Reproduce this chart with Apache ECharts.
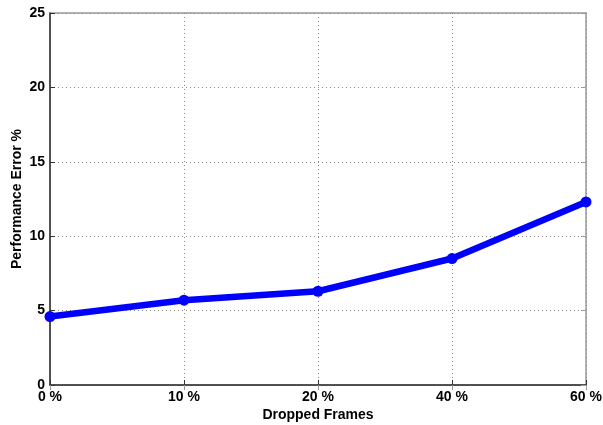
<!DOCTYPE html>
<html>
<head>
<meta charset="utf-8">
<script src="https://cdn.jsdelivr.net/npm/echarts@6/dist/echarts.min.js"></script>
<style>
  html, body { margin: 0; padding: 0; background: #fff; }
  #chart { width: 603px; height: 425px; }
</style>
</head>
<body>
<div id="chart"></div>
<script>
// dropped frame levels and measured error
const categories = ['0 %', '10 %', '20 %', '40 %', '60 %']
const errorValues = [4.6, 5.7, 6.3, 8.5, 12.3]
const yTicks = [0, 5, 10, 15, 20, 25]

const font = 'Liberation Sans, Arial, sans-serif'
const gridLine = { show: true, lineStyle: { color: '#888', type: [1, 3], width: 1 } }

let echart = echarts.init(document.getElementById('chart'))
echart.setOption({
  animation: false,
  grid: {
    left: 50, right: 17, top: 13, bottom: 40,
    outerBoundsMode: 'none',
    show: true, borderColor: '#999', borderWidth: 1.5, backgroundColor: '#fff'
  },
  xAxis: [
    {
      type: 'category',
      data: categories,
      boundaryGap: false,
      name: 'Dropped Frames',
      nameLocation: 'middle',
      nameGap: 23,
      nameMoveOverlap: false,
      nameTextStyle: { fontFamily: font, fontWeight: 'bold', fontSize: 14, color: '#000' },
      axisLine: { lineStyle: { color: '#333', width: 1.5 } },
      axisTick: { inside: true, length: 5, lineStyle: { color: '#333' } },
      axisLabel: { fontFamily: font, fontWeight: 'bold', fontSize: 14, color: '#000', margin: 5,
        showMinLabel: true, showMaxLabel: true, interval: 0 },
      splitLine: gridLine
    },
    {
      type: 'category',
      data: categories,
      boundaryGap: false,
      position: 'top',
      axisLine: { show: false },
      axisTick: { inside: true, length: 5, lineStyle: { color: '#999' } },
      axisLabel: { show: false },
      splitLine: { show: false }
    }
  ],
  yAxis: [
    {
      type: 'value',
      min: yTicks[0],
      max: yTicks[yTicks.length - 1],
      interval: 5,
      name: 'Performance Error %',
      nameLocation: 'middle',
      nameGap: 26,
      nameMoveOverlap: false,
      nameTextStyle: { fontFamily: font, fontWeight: 'bold', fontSize: 14, color: '#000' },
      axisLine: { show: true, lineStyle: { color: '#333', width: 1.5 } },
      axisTick: { show: true, inside: true, length: 5, lineStyle: { color: '#333' } },
      axisLabel: { fontFamily: font, fontWeight: 'bold', fontSize: 14, color: '#000', margin: 5 },
      splitLine: gridLine
    },
    {
      type: 'value',
      min: yTicks[0],
      max: yTicks[yTicks.length - 1],
      interval: 5,
      position: 'right',
      axisLine: { show: false },
      axisTick: { show: true, inside: true, length: 5, lineStyle: { color: '#999' } },
      axisLabel: { show: false },
      splitLine: { show: false }
    }
  ],
  series: [
    {
      name: 'Performance Error',
      type: 'line',
      data: errorValues,
      symbol: 'circle',
      symbolSize: 11,
      lineStyle: { color: '#0000ff', width: 6.5 },
      itemStyle: { color: '#0000ff' },
      z: 5
    }
  ]
})
</script>
</body>
</html>
